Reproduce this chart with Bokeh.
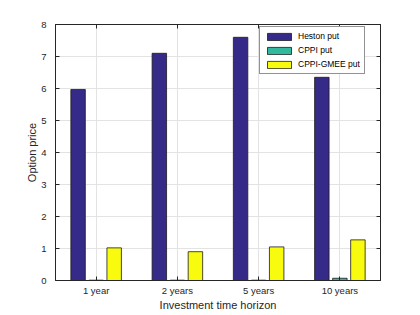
from bokeh.plotting import figure
from bokeh.models import (ColumnDataSource, FactorRange, Range1d, LinearAxis, CategoricalAxis,
                          Legend, LegendItem, SingleIntervalTicker, CustomJSTickFormatter)
from bokeh.transform import dodge
from bokeh.embed import file_html
from bokeh.resources import INLINE

horizons = ["1 year", "2 years", "5 years", "10 years"]
heston_put = [5.97, 7.10, 7.60, 6.35]
cppi_put = [0.01, 0.01, 0.01, 0.07]
cppi_gmee_put = [1.02, 0.90, 1.05, 1.27]

series_names = ["Heston put", "CPPI put", "CPPI-GMEE put"]
series_colors = ["#352A87", "#33B8A0", "#F9FB0E"]

src = ColumnDataSource(dict(h=horizons, a=heston_put, b=cppi_put, c=cppi_gmee_put))

FONT = "Liberation Sans"
AX = "#262626"

p = figure(frame_width=325, frame_height=256, x_range=FactorRange(*horizons), y_range=Range1d(0, 8),
           output_backend="svg", toolbar_location=None,
           min_border_left=55, min_border_top=24, min_border_right=20, min_border_bottom=30)

offsets = [-0.222, 0.0, 0.222]
cols = ["a", "b", "c"]
renderers = []
for col, off, colr in zip(cols, offsets, series_colors):
    r = p.vbar(x=dodge("h", off, range=p.x_range), top=col, width=0.178, source=src,
               fill_color=colr, line_color="#1a1a1a", line_width=0.8)
    renderers.append(r)

for ax in [p.xaxis[0], p.yaxis[0]]:
    ax.axis_line_color = AX
    ax.major_tick_line_color = AX
    ax.major_tick_in = 4
    ax.major_tick_out = 0
    ax.minor_tick_line_color = None
    ax.major_label_text_font = FONT
    ax.major_label_text_font_size = "9.5px"
    ax.major_label_text_color = AX
    ax.axis_label_text_font = FONT
    ax.axis_label_text_font_size = "11px"
    ax.axis_label_text_font_style = "normal"
    ax.axis_label_text_color = AX

p.yaxis[0].ticker = SingleIntervalTicker(interval=1)
p.yaxis[0].axis_label = "Option price"
p.yaxis[0].major_label_standoff = 5
p.yaxis[0].axis_label_standoff = 0
p.xaxis[0].axis_label = "Investment time horizon"
p.xaxis[0].major_label_standoff = 4
p.xaxis[0].axis_label_standoff = 0

ry = LinearAxis(ticker=SingleIntervalTicker(interval=1), formatter=CustomJSTickFormatter(code="return ''"))
tx = CategoricalAxis(formatter=CustomJSTickFormatter(code="return ''"))
for ax in (ry, tx):
    ax.major_tick_in = 4
    ax.major_tick_out = 0
    ax.minor_tick_line_color = None
    ax.axis_line_color = AX
    ax.major_tick_line_color = AX
    ax.major_label_standoff = 0
p.add_layout(ry, "right")
p.add_layout(tx, "above")

p.outline_line_color = AX
p.outline_line_alpha = 1
p.xgrid.grid_line_color = "#e3e3e3"
p.ygrid.grid_line_color = "#e3e3e3"
p.background_fill_color = "white"
p.border_fill_color = "white"

legend = Legend(items=[LegendItem(label=n, renderers=[r]) for n, r in zip(series_names, renderers)],
                location=(204, 206), orientation="vertical")
legend.label_text_font = FONT
legend.label_text_font_size = "8.5px"
legend.label_text_color = "#000000"
legend.glyph_width = 30
legend.glyph_height = 9
legend.label_height = 9
legend.spacing = 4
legend.padding = 4
legend.margin = 0
legend.label_standoff = 4
legend.border_line_color = "#262626"
legend.border_line_width = 1
legend.background_fill_alpha = 1
p.add_layout(legend, "center")

open("out.html", "w").write(file_html(p, INLINE))
